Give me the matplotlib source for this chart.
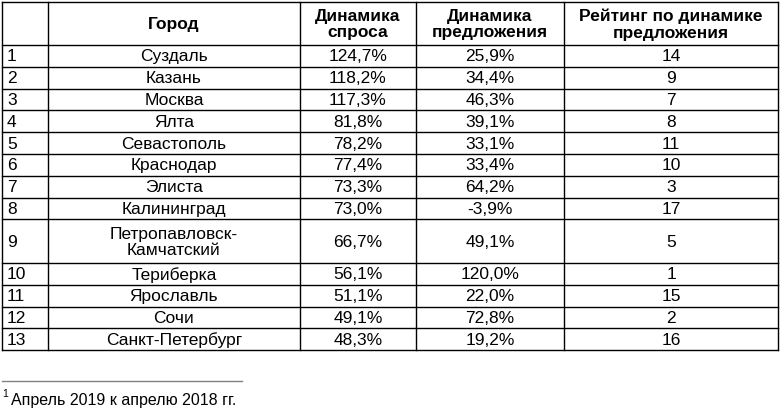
import matplotlib.pyplot as plt
from matplotlib import font_manager

cities = ["Суздаль", "Казань", "Москва", "Ялта", "Севастополь", "Краснодар", "Элиста",
          "Калининград", "Петропавловск-\nКамчатский", "Териберка", "Ярославль", "Сочи",
          "Санкт-Петербург"]
demand = [124.7, 118.2, 117.3, 81.8, 78.2, 77.4, 73.3, 73.0, 66.7, 56.1, 51.1, 49.1, 48.3]
supply = [25.9, 34.4, 46.3, 39.1, 33.1, 33.4, 64.2, -3.9, 49.1, 120.0, 22.0, 72.8, 19.2]
rating = [14, 9, 7, 8, 11, 10, 3, 17, 5, 1, 15, 2, 16]
headers = ["", "Город", "Динамика\nспроса", "Динамика\nпредложения", "Рейтинг по динамике\nпредложения"]

names = {f.name for f in font_manager.fontManager.ttflist}
family = "Liberation Sans Narrow" if "Liberation Sans Narrow" in names else "Liberation Sans"

W, H = 782, 408
fig = plt.figure(figsize=(W / 100, H / 100), dpi=100)
ax = fig.add_axes([0, 0, 1, 1])
ax.set_xlim(0, W)
ax.set_ylim(H, 0)
ax.axis("off")

col_x = [2, 48, 300, 416, 564, 778]
row_h = 21.8
heights = [43] + [row_h * (2 if "\n" in c else 1) for c in cities]
row_y = [2]
for h in heights:
    row_y.append(row_y[-1] + h)

lw = 1.0
for y in row_y:
    ax.plot([col_x[0], col_x[-1]], [y, y], color="black", lw=lw)
for x in col_x:
    ax.plot([x, x], [row_y[0], row_y[-1]], color="black", lw=lw)

fs = 12.5
for j, h in enumerate(headers):
    cx = (col_x[j] + col_x[j + 1]) / 2
    ax.text(cx, (row_y[0] + row_y[1]) / 2 + 1, h, ha="center", va="center",
            fontsize=fs, fontweight="bold", family=family, linespacing=1.15)

fmt = lambda v: f"{v:.1f}%".replace(".", ",")
for i in range(len(cities)):
    cy = (row_y[i + 1] + row_y[i + 2]) / 2 + 1
    vals = [str(i + 1), cities[i], fmt(demand[i]), fmt(supply[i]), str(rating[i])]
    for j, v in enumerate(vals):
        if j == 0:
            ax.text(col_x[0] + 5, cy, v, ha="left", va="center", fontsize=fs, family=family)
        else:
            cx = (col_x[j] + col_x[j + 1]) / 2
            ax.text(cx, cy, v, ha="center", va="center", fontsize=fs, family=family,
                    linespacing=1.1)

ax.plot([2, 242], [381, 381], color="gray", lw=1)
ax.text(2, 394, "1", fontsize=7.5, family="Liberation Sans", va="center")
ax.text(11, 400, "Апрель 2019 к апрелю 2018 гг.", fontsize=11.5,
        family="Liberation Sans", va="center")

fig.savefig("out.png", dpi=100)
